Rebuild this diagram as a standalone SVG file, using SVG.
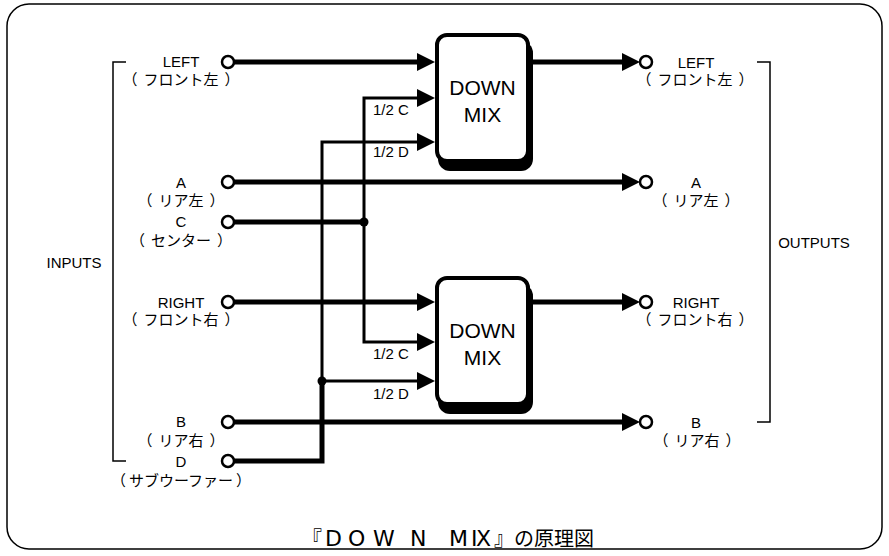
<svg xmlns="http://www.w3.org/2000/svg" width="889" height="556" viewBox="0 0 889 556">
<style>
text{font-family:"Liberation Sans","Noto Sans CJK JP",sans-serif;font-size:15px;fill:#000}
.m{text-anchor:middle}
.thick{stroke:#000;stroke-width:5;fill:none}
.thin{stroke:#000;stroke-width:3;fill:none}
.term{fill:#fff;stroke:#000;stroke-width:2.5}
.box{fill:#fff;stroke:#000;stroke-width:4}
.shadow{fill:#000}
.br{stroke:#000;stroke-width:1.5;fill:none}
.big{font-size:21px}
text.title{font-size:20px}
.tl{font-family:"DejaVu Sans","Liberation Sans",sans-serif;font-size:22px}
</style>
<defs>
<marker id="ah" markerUnits="userSpaceOnUse" viewBox="0 0 18 18" refX="10" refY="9" markerWidth="18" markerHeight="18" orient="auto">
<path d="M0,0 L18,9 L0,18 Z" fill="#000"/>
</marker>
</defs>
<rect x="7" y="4" width="875" height="545" rx="22" class="br"/>
<g id="connectors">
<path class="thick" d="M228,62 H427" marker-end="url(#ah)"/>
<path class="thick" d="M530,62 H632" marker-end="url(#ah)"/>
<path class="thick" d="M228,182 H632" marker-end="url(#ah)"/>
<path class="thick" d="M228,222 H364"/>
<path class="thin" d="M364,222 V98 H427" marker-end="url(#ah)"/>
<path class="thin" d="M364,222 V342 H427" marker-end="url(#ah)"/>
<path class="thin" d="M322,381 V142 H427" marker-end="url(#ah)"/>
<path class="thin" d="M322,381 H427" marker-end="url(#ah)"/>
<path class="thick" d="M228,461 H322 V381" stroke-width="4.5"/>
<path class="thick" d="M228,302 H427" marker-end="url(#ah)"/>
<path class="thick" d="M530,302 H632" marker-end="url(#ah)"/>
<path class="thick" d="M228,422 H632" marker-end="url(#ah)"/>
<circle cx="364" cy="222" r="4.5"/>
<circle cx="322" cy="381" r="4.5"/>
</g>
<g id="box1">
<rect class="shadow" x="438" y="41" width="95" height="130" rx="12"/>
<rect class="box" x="437" y="35" width="91" height="126" rx="10"/>
<text class="m big" x="482.5" y="95">DOWN</text>
<text class="m big" x="482.5" y="122">MIX</text>
</g>
<g id="box2">
<rect class="shadow" x="438" y="284" width="95" height="130" rx="12"/>
<rect class="box" x="437" y="278" width="91" height="126" rx="10"/>
<text class="m big" x="482.5" y="338">DOWN</text>
<text class="m big" x="482.5" y="365">MIX</text>
</g>
<g id="labels-mix">
<text x="373" y="115">1/2 C</text>
<text x="373" y="157">1/2 D</text>
<text x="373" y="359">1/2 C</text>
<text x="373" y="399">1/2 D</text>
</g>
<g id="in-left"><circle class="term" cx="228" cy="62" r="6"/><text class="m" x="181" y="67">LEFT</text><text class="m" x="181" y="85">（<tspan dx="6">フロント左</tspan><tspan dx="6">）</tspan></text></g>
<g id="in-a"><circle class="term" cx="228" cy="182" r="6"/><text class="m" x="181" y="188">A</text><text class="m" x="181" y="206">（<tspan dx="6">リア左</tspan><tspan dx="6">）</tspan></text></g>
<g id="in-c"><circle class="term" cx="228" cy="222" r="6"/><text class="m" x="181" y="227">C</text><text class="m" x="181" y="246">（<tspan dx="6">センター</tspan><tspan dx="6">）</tspan></text></g>
<g id="in-right"><circle class="term" cx="228" cy="302" r="6"/><text class="m" x="181" y="308">RIGHT</text><text class="m" x="181" y="325">（<tspan dx="6">フロント右</tspan><tspan dx="6">）</tspan></text></g>
<g id="in-b"><circle class="term" cx="228" cy="422" r="6"/><text class="m" x="181" y="427">B</text><text class="m" x="181" y="446">（<tspan dx="6">リア右</tspan><tspan dx="6">）</tspan></text></g>
<g id="in-d"><circle class="term" cx="228" cy="461" r="6"/><text class="m" x="181" y="467">D</text><text class="m" x="181" y="486">（<tspan dx="3">サブウーファー</tspan><tspan dx="3">）</tspan></text></g>
<g id="out-left"><circle class="term" cx="646" cy="62" r="6"/><text class="m" x="696" y="68">LEFT</text><text class="m" x="695" y="85">（<tspan dx="6">フロント左</tspan><tspan dx="6">）</tspan></text></g>
<g id="out-a"><circle class="term" cx="646" cy="182" r="6"/><text class="m" x="696" y="188">A</text><text class="m" x="696" y="206">（<tspan dx="6">リア左</tspan><tspan dx="6">）</tspan></text></g>
<g id="out-right"><circle class="term" cx="646" cy="302" r="6"/><text class="m" x="696" y="308">RIGHT</text><text class="m" x="695" y="325">（<tspan dx="6">フロント右</tspan><tspan dx="6">）</tspan></text></g>
<g id="out-b"><circle class="term" cx="646" cy="422" r="6"/><text class="m" x="696" y="428">B</text><text class="m" x="697" y="446">（<tspan dx="6">リア右</tspan><tspan dx="6">）</tspan></text></g>
<g id="inputs"><path class="br" d="M126,62 H113 V461 H126"/><text class="m" x="74" y="268">INPUTS</text></g>
<g id="outputs"><path class="br" d="M757,62 H770 V422 H757"/><text class="m" x="814" y="248">OUTPUTS</text></g>
<g id="title">
<text class="title" y="546"><tspan x="302">『</tspan><tspan class="tl" x="325 348 373 410">DOWN</tspan><tspan class="tl" x="449 471 476">MIX</tspan><tspan x="494">』の原理図</tspan></text>
</g>
</svg>
